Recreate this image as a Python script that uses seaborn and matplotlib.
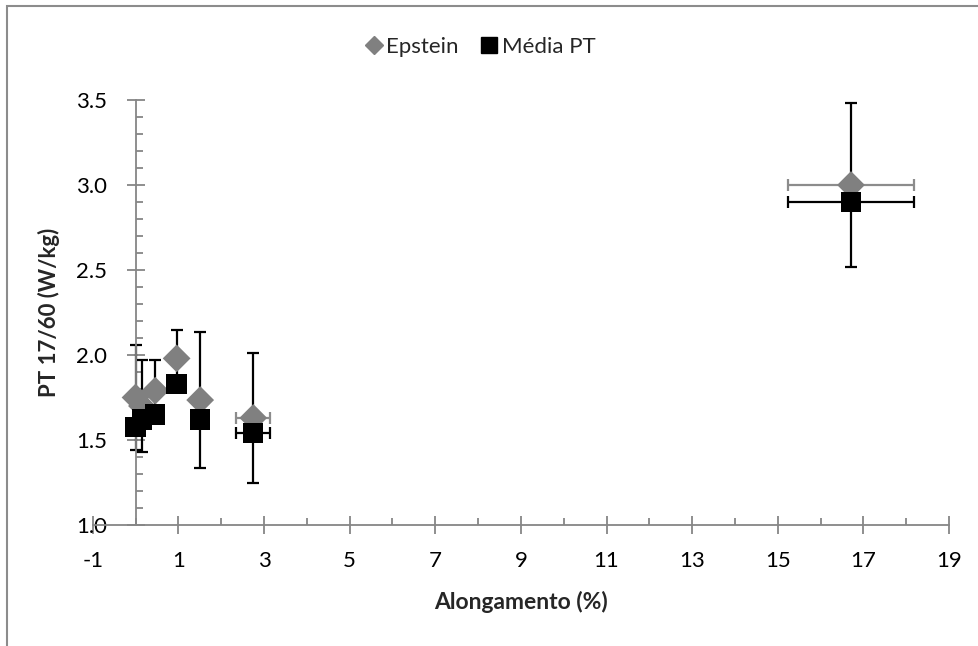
import numpy as np
import pandas as pd
import matplotlib
matplotlib.use("Agg")
import matplotlib.pyplot as plt
import seaborn as sns
from matplotlib.ticker import MultipleLocator, FormatStrFormatter
from matplotlib.lines import Line2D
from matplotlib.patches import Rectangle

# Elongation (%) of each sample and its spread
alongamento = [0.0, 0.15, 0.46, 0.96, 1.51, 2.75, 16.71]
alongamento_err = [0.0, 0.0, 0.0, 0.0, 0.0, 0.40, 1.47]
# Specific losses PT 17/60 (W/kg)
epstein = [1.75, 1.70, 1.79, 1.98, 1.735, 1.63, 3.00]
epstein_err = [0.31, 0.27, 0.18, 0.17, 0.40, 0.38, 0.48]
media_pt = [1.575, 1.62, 1.65, 1.83, 1.62, 1.54, 2.90]

series_names = ["Epstein", "Média PT"]
series_colors = {"Epstein": "#808080", "Média PT": "#000000"}
series_markers = {"Epstein": "D", "Média PT": "s"}
series_sizes = {"Epstein": 200, "Média PT": 215}

df = pd.DataFrame({
    "Alongamento": alongamento * 2,
    "PT": epstein + media_pt,
    "Série": [series_names[0]] * len(epstein) + [series_names[1]] * len(media_pt),
})

sns.set_theme(style="white")
plt.rcParams["font.family"] = ["Lato", "DejaVu Sans"]
plt.rcParams["axes.unicode_minus"] = False

axis_gray = "#868686"
fs = 16

fig = plt.figure(figsize=(9.79, 6.46), dpi=100)
ax = fig.add_axes([0.0947, 0.1873, 0.8747, 0.6579])

x = np.array(alongamento)
xe = np.array(alongamento_err)
has_xerr = xe > 0

# Error bars (drawn beneath the markers)
ax.errorbar(x, epstein, yerr=epstein_err, fmt="none", ecolor="black",
            elinewidth=1.6, capsize=4.5, capthick=1.6, zorder=2)
ax.errorbar(x[has_xerr], np.array(epstein)[has_xerr], xerr=xe[has_xerr], fmt="none",
            ecolor="#8c8c8c", elinewidth=1.6, capsize=4.5, capthick=1.6, zorder=2)
ax.errorbar(x[has_xerr], np.array(media_pt)[has_xerr], xerr=xe[has_xerr], fmt="none",
            ecolor="black", elinewidth=1.6, capsize=4.5, capthick=1.6, zorder=2)

sns.scatterplot(data=df, x="Alongamento", y="PT", hue="Série", style="Série",
                size="Série", sizes=series_sizes, markers=series_markers,
                palette=series_colors, linewidth=0, legend=False, ax=ax, zorder=3)

ax.set_xlim(-1, 19)
ax.set_ylim(1.0, 3.5)
ax.set_xticks(np.arange(-1, 20, 2))
ax.xaxis.set_minor_locator(MultipleLocator(1))
ax.yaxis.set_major_locator(MultipleLocator(0.5))
ax.yaxis.set_minor_locator(MultipleLocator(0.1))
ax.yaxis.set_major_formatter(FormatStrFormatter("%.1f"))

for side in ["top", "right"]:
    ax.spines[side].set_visible(False)
ax.spines["left"].set_position(("data", 0))
for side in ["left", "bottom"]:
    ax.spines[side].set_color(axis_gray)
    ax.spines[side].set_linewidth(1.3)

ax.tick_params(which="both", bottom=True, left=True, color=axis_gray, width=1.3)
ax.tick_params(which="major", direction="inout", length=13, labelsize=fs,
               labelcolor="black")
ax.tick_params(which="minor", direction="in", length=5)
ax.tick_params(axis="y", which="major", pad=14)
ax.tick_params(axis="x", which="major", pad=12)
ax.grid(False)

ax.set_xlabel("Alongamento (%)", fontsize=16.5, fontweight="bold")
ax.set_ylabel("PT 17/60 (W/kg)", fontsize=16, fontweight="bold")
ax.xaxis.set_label_coords(0.5, -0.155)
ax.yaxis.set_label_coords(-0.038, 0.5)

handles = [
    Line2D([], [], marker="D", color=series_colors["Epstein"], linestyle="none",
           markersize=9),
    Line2D([], [], marker="s", color=series_colors["Média PT"], linestyle="none",
           markersize=11),
]
fig.legend(handles, series_names, loc="center", bbox_to_anchor=(480 / 979, 1 - 47 / 646),
           ncol=2, frameon=False, fontsize=fs, handlelength=0.8, handletextpad=0.15,
           columnspacing=1.0)

# Chart-area frame
fig.patches.append(Rectangle((7 / 979, -0.2), 2, 1.2 - 6 / 646, transform=fig.transFigure,
                             fill=False, edgecolor="#8c8c8c", linewidth=1.5))

fig.savefig("out.png", dpi=100)
